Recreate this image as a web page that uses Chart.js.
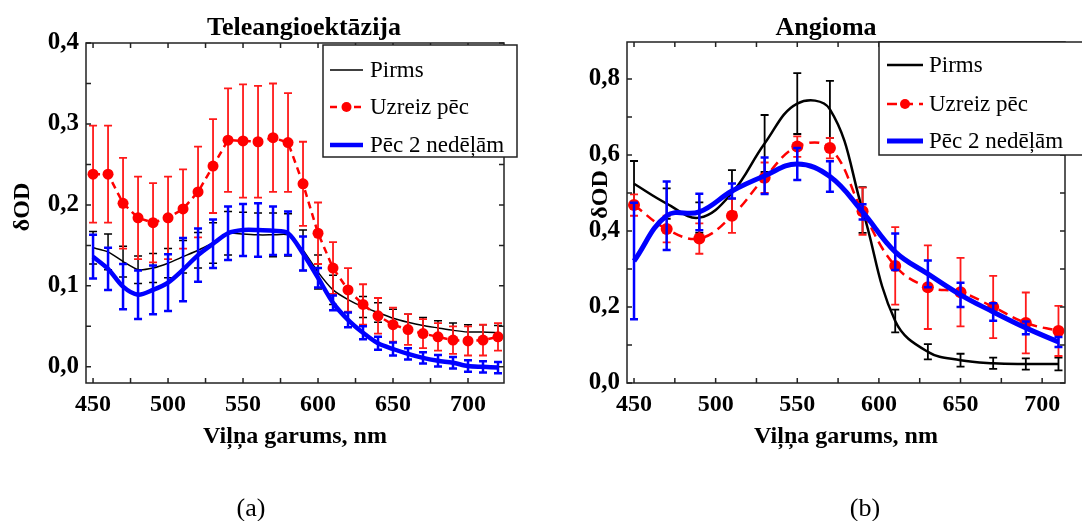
<!DOCTYPE html>
<html>
<head>
<meta charset="utf-8">
<script src="https://cdn.jsdelivr.net/npm/chart.js@4/dist/chart.umd.min.js"></script>
<style>
  body { margin: 0; background: #fff; }
  canvas { position: absolute; top: 0; }
</style>
</head>
<body>
<canvas id="chartA" width="541" height="521" style="left:0"></canvas>
<canvas id="chartB" width="541" height="521" style="left:541px"></canvas>
<script>
// (a) Teleangioektāzija
const wlA = [450, 460, 470, 480, 490, 500, 510, 520, 530, 540, 550, 560, 570, 580,
  590, 600, 610, 620, 630, 640, 650, 660, 670, 680, 690, 700, 710, 720];
const pirmsA = [0.147, 0.142, 0.130, 0.120, 0.122, 0.128, 0.136, 0.144, 0.153, 0.165, 0.164, 0.163, 0.163, 0.163,
  0.144, 0.117, 0.095, 0.083, 0.074, 0.067, 0.060, 0.055, 0.051, 0.048, 0.045, 0.043, 0.043, 0.042];
const pirmsAErr = [0.020, 0.022, 0.019, 0.017, 0.018, 0.018, 0.020, 0.022, 0.025, 0.027, 0.027, 0.027, 0.027, 0.026,
  0.025, 0.021, 0.018, 0.015, 0.013, 0.012, 0.011, 0.010, 0.010, 0.009, 0.009, 0.009, 0.009, 0.009];
const uzreizA = [0.238, 0.238, 0.202, 0.184, 0.178, 0.184, 0.195, 0.216, 0.248, 0.280, 0.279, 0.278, 0.283, 0.277,
  0.226, 0.165, 0.122, 0.095, 0.077, 0.063, 0.052, 0.046, 0.041, 0.037, 0.033, 0.032, 0.033, 0.037];
const uzreizAErr = [0.060, 0.060, 0.056, 0.051, 0.049, 0.051, 0.049, 0.056, 0.058, 0.064, 0.070, 0.069, 0.067, 0.061,
  0.052, 0.038, 0.032, 0.027, 0.025, 0.022, 0.021, 0.019, 0.018, 0.017, 0.017, 0.018, 0.019, 0.017];
const pec2A = [0.136, 0.121, 0.099, 0.089, 0.095, 0.104, 0.120, 0.138, 0.152, 0.165, 0.169, 0.169, 0.168, 0.165,
  0.140, 0.110, 0.079, 0.058, 0.042, 0.029, 0.022, 0.016, 0.011, 0.0075, 0.005, 0.001, 0.000, -0.001];
const pec2AErr = [0.027, 0.026, 0.028, 0.030, 0.030, 0.035, 0.039, 0.033, 0.030, 0.033, 0.032, 0.033, 0.030, 0.027,
  0.021, 0.012, 0.009, 0.009, 0.008, 0.008, 0.008, 0.007, 0.007, 0.007, 0.007, 0.007, 0.007, 0.007];

// (b) Angioma
const wlB = [450, 470, 490, 510, 530, 550, 570, 590, 610, 630, 650, 670, 690, 710];
const pirmsB = [0.524, 0.472, 0.435, 0.500, 0.630, 0.735, 0.720, 0.455, 0.163, 0.082, 0.060, 0.052, 0.050, 0.050];
const pirmsBErr = [0.060, 0.040, 0.040, 0.060, 0.075, 0.080, 0.075, 0.060, 0.030, 0.020, 0.017, 0.015, 0.015, 0.017];
const uzreizB = [0.468, 0.405, 0.380, 0.440, 0.540, 0.622, 0.618, 0.452, 0.308, 0.252, 0.239, 0.200, 0.158, 0.137];
const uzreizBErr = [0.028, 0.035, 0.040, 0.045, 0.040, 0.027, 0.027, 0.062, 0.102, 0.110, 0.090, 0.082, 0.080, 0.066];
const pec2B = [0.321, 0.440, 0.450, 0.505, 0.545, 0.576, 0.543, 0.450, 0.345, 0.287, 0.232, 0.187, 0.145, 0.108];
const pec2BErr = [0.153, 0.090, 0.048, 0.020, 0.048, 0.042, 0.040, 0.020, 0.048, 0.035, 0.032, 0.023, 0.017, 0.013];

const seriesNames = ["Pirms", "Uzreiz pēc", "Pēc 2 nedēļām"];
const xTicks = [450, 500, 550, 600, 650, 700];
const yTicksA = [0, 0.1, 0.2, 0.3, 0.4];
const yTicksB = [0, 0.2, 0.4, 0.6, 0.8];

const SERIF = '"Liberation Serif", "Times New Roman", serif';
Chart.defaults.font.family = SERIF;
Chart.defaults.color = "#000";

const toPoints = (xs, ys) => xs.map((x, i) => ({ x: x, y: ys[i] }));
const comma = (v) => v.toFixed(1).replace(".", ",");

// error bars drawn just before each dataset's line
const errorBars = {
  id: "errorBars",
  beforeDatasetDraw(chart, args) {
    const ds = chart.data.datasets[args.index];
    if (!ds.errors) return;
    const { ctx, scales } = chart;
    const cap = ds.capSize || 4;
    ctx.save();
    ctx.strokeStyle = ds.errorColor;
    ctx.lineWidth = ds.errorWidth;
    ctx.setLineDash([]);
    ds.data.forEach((p, i) => {
      const e = ds.errors[i];
      const px = scales.x.getPixelForValue(p.x);
      const top = scales.y.getPixelForValue(p.y + e);
      const bot = scales.y.getPixelForValue(p.y - e);
      ctx.beginPath();
      ctx.moveTo(px, top);
      ctx.lineTo(px, bot);
      ctx.moveTo(px - cap, top);
      ctx.lineTo(px + cap, top);
      ctx.moveTo(px - cap, bot);
      ctx.lineTo(px + cap, bot);
      ctx.stroke();
    });
    ctx.restore();
  },
};

// box frame with inward ticks on all four sides
function tickValues(majors, min, max) {
  const step = majors[1] - majors[0];
  const vals = [majors[0] - step / 2];
  majors.forEach((m) => vals.push(m, m + step / 2));
  return vals.filter((v) => v >= min - 1e-9 && v <= max + 1e-9);
}

const frame = {
  id: "frame",
  afterDatasetsDraw(chart) {
    const { ctx, chartArea: a, scales } = chart;
    const len = 5;
    ctx.save();
    ctx.strokeStyle = "#222";
    ctx.lineWidth = 1.5;
    ctx.strokeRect(a.left, a.top, a.right - a.left, a.bottom - a.top);
    ctx.beginPath();
    tickValues(xTicks, scales.x.min, scales.x.max).forEach((v) => {
      const px = scales.x.getPixelForValue(v);
      ctx.moveTo(px, a.bottom);
      ctx.lineTo(px, a.bottom - len);
      ctx.moveTo(px, a.top);
      ctx.lineTo(px, a.top + len);
    });
    tickValues(chart.options.yMajors, scales.y.min, scales.y.max).forEach((v) => {
      const py = scales.y.getPixelForValue(v);
      ctx.moveTo(a.left, py);
      ctx.lineTo(a.left + len, py);
      ctx.moveTo(a.right, py);
      ctx.lineTo(a.right - len, py);
    });
    ctx.stroke();
    ctx.restore();
  },
};

// title, legend box and caption
const decorations = {
  id: "decorations",
  afterDraw(chart) {
    const { ctx } = chart;
    const d = chart.options.deco;
    ctx.save();
    ctx.fillStyle = "#000";
    ctx.textAlign = "center";
    ctx.textBaseline = "alphabetic";
    ctx.font = "bold 26px " + SERIF;
    ctx.fillText(d.title, d.titleX, d.titleY);
    ctx.font = "26px " + SERIF;
    ctx.fillText(d.caption, d.captionX, 516);

    const L = d.legend;
    ctx.fillStyle = "#fff";
    ctx.fillRect(L.x, L.y, L.w, L.h);
    ctx.strokeStyle = "#222";
    ctx.lineWidth = 1.5;
    ctx.strokeRect(L.x, L.y, L.w, L.h);
    ctx.font = "23px " + SERIF;
    ctx.textAlign = "left";
    ctx.textBaseline = "middle";
    chart.data.datasets.forEach((ds, i) => {
      const y = L.rowY[i];
      ctx.strokeStyle = ds.borderColor;
      ctx.lineWidth = Math.min(ds.borderWidth, 5);
      ctx.setLineDash(ds.borderDash || []);
      ctx.beginPath();
      ctx.moveTo(L.lineX, y);
      ctx.lineTo(L.lineX + L.lineW, y);
      ctx.stroke();
      ctx.setLineDash([]);
      if (ds.pointRadius > 0) {
        ctx.fillStyle = ds.pointBackgroundColor;
        ctx.beginPath();
        ctx.arc(L.lineX + L.lineW / 2, y, 5, 0, Math.PI * 2);
        ctx.fill();
      }
      ctx.fillStyle = "#000";
      ctx.fillText(seriesNames[i], L.textX, y + 1);
    });
    ctx.restore();
  },
};

function makeOptions(cfg) {
  return {
    responsive: false,
    animation: false,
    yMajors: cfg.yMajors,
    deco: cfg.deco,
    layout: { padding: { left: 0, right: cfg.padRight, top: cfg.padTop, bottom: 58 } },
    plugins: { legend: { display: false }, tooltip: { enabled: false } },
    scales: {
      x: {
        type: "linear",
        min: cfg.xMin,
        max: cfg.xMax,
        grid: { display: false, drawTicks: false },
        border: { display: false },
        afterBuildTicks: (s) => { s.ticks = xTicks.map((v) => ({ value: v })); },
        afterFit: (s) => { s.height = 80; },
        ticks: { padding: 7, maxRotation: 0, font: { size: 24, weight: "bold" } },
        title: {
          display: true,
          text: "Viļņa garums, nm",
          font: { size: 24, weight: "bold" },
          padding: { top: 0, bottom: 12 },
        },
      },
      y: {
        min: cfg.yMin,
        max: cfg.yMax,
        grid: { display: false, drawTicks: false },
        border: { display: false },
        afterBuildTicks: (s) => { s.ticks = cfg.yMajors.map((v) => ({ value: v })); },
        afterFit: (s) => { s.width = 86; },
        ticks: { padding: 7, font: { size: 25, weight: "bold" }, callback: (v) => comma(v) },
        title: {
          display: true,
          // leading spaces nudge the rotated label upward, as in the original
          text: cfg.yTitle,
          font: { size: 24, weight: "bold" },
          padding: { top: cfg.yTitlePad, bottom: 0 },
        },
      },
    },
  };
}

new Chart(document.getElementById("chartA"), {
  type: "line",
  data: {
    datasets: [
      {
        label: seriesNames[0],
        data: toPoints(wlA, pirmsA),
        errors: pirmsAErr,
        errorColor: "#000",
        errorWidth: 1.5,
        capSize: 4,
        borderColor: "#000",
        borderWidth: 1.5,
        pointRadius: 0,
        tension: 0.2,
        order: 3,
      },
      {
        label: seriesNames[1],
        data: toPoints(wlA, uzreizA),
        errors: uzreizAErr,
        errorColor: "#ff1a1a",
        errorWidth: 1.8,
        capSize: 4,
        borderColor: "#ff0000",
        borderWidth: 2.5,
        borderDash: [7, 5],
        pointRadius: 5.5,
        pointBackgroundColor: "#ff0000",
        pointBorderWidth: 0,
        tension: 0,
        order: 2,
      },
      {
        label: seriesNames[2],
        data: toPoints(wlA, pec2A),
        errors: pec2AErr,
        errorColor: "#0000ff",
        errorWidth: 2.5,
        capSize: 4,
        borderColor: "#0000ff",
        borderWidth: 4.5,
        pointRadius: 0,
        tension: 0.3,
        order: 1,
      },
    ],
  },
  options: makeOptions({
    xMin: 445.3, xMax: 724, yMin: -0.02, yMax: 0.4,
    yMajors: yTicksA, padRight: 37, padTop: 43, yTitlePad: 8, yTitle: "  δOD",
    deco: {
      title: "Teleangioektāzija", titleX: 304, titleY: 35,
      caption: "(a)", captionX: 251,
      legend: { x: 323, y: 45, w: 194, h: 112, lineX: 330, lineW: 33, textX: 370, rowY: [70, 107, 145] },
    },
  }),
  plugins: [errorBars, frame, decorations],
});

new Chart(document.getElementById("chartB"), {
  type: "line",
  data: {
    datasets: [
      {
        label: seriesNames[0],
        data: toPoints(wlB, pirmsB),
        errors: pirmsBErr,
        errorColor: "#000",
        errorWidth: 1.8,
        capSize: 4,
        borderColor: "#000",
        borderWidth: 2.5,
        pointRadius: 0,
        tension: 0.4,
        order: 3,
      },
      {
        label: seriesNames[1],
        data: toPoints(wlB, uzreizB),
        errors: uzreizBErr,
        errorColor: "#ff1a1a",
        errorWidth: 1.8,
        capSize: 4,
        borderColor: "#ff0000",
        borderWidth: 2.5,
        borderDash: [10, 6],
        pointRadius: 6,
        pointBackgroundColor: "#ff0000",
        pointBorderWidth: 0,
        tension: 0.4,
        order: 2,
      },
      {
        label: seriesNames[2],
        data: toPoints(wlB, pec2B),
        errors: pec2BErr,
        errorColor: "#0000ff",
        errorWidth: 2.5,
        capSize: 4,
        borderColor: "#0000ff",
        borderWidth: 5,
        pointRadius: 0,
        tension: 0.4,
        order: 1,
      },
    ],
  },
  options: makeOptions({
    xMin: 445.7, xMax: 714, yMin: 0, yMax: 0.897,
    yMajors: yTicksB, padRight: 17, padTop: 42, yTitlePad: 45, yTitle: "      δOD",
    deco: {
      title: "Angioma", titleX: 285, titleY: 35,
      caption: "(b)", captionX: 324,
      legend: { x: 338, y: 42, w: 220, h: 113, lineX: 346, lineW: 36, textX: 388, rowY: [65, 104, 141] },
    },
  }),
  plugins: [errorBars, frame, decorations],
});
</script>
</body>
</html>
